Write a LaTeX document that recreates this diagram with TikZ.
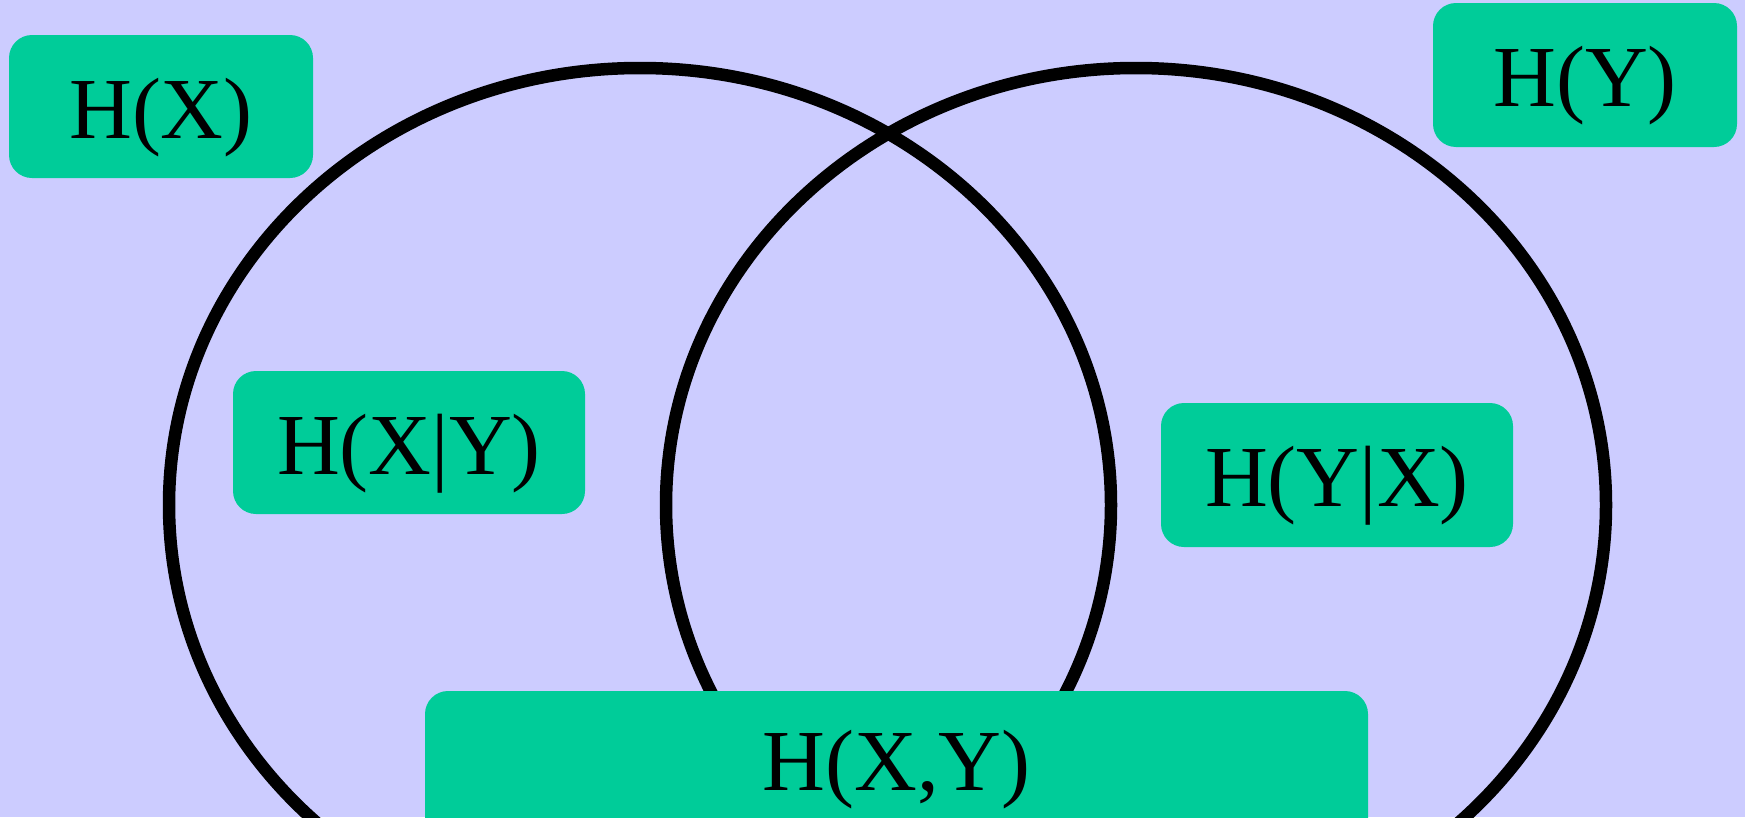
\documentclass[tikz,border=0pt]{standalone}
\usepackage{fontspec}
\setmainfont{Liberation Serif}
\definecolor{bgc}{HTML}{CCCCFF}
\definecolor{boxc}{HTML}{00CC99}
\begin{document}
\begin{tikzpicture}[x=1pt,y=-1pt,
  ent/.style={fill=boxc, rounded corners=23pt, inner sep=0pt,
    text height=80pt, text depth=17pt,
    font=\fontsize{87}{90}\selectfont},
  ring/.style={line width=12.5pt, draw=black}]
\useasboundingbox (0,0) rectangle (1745,817);
\clip (0,0) rectangle (1745,817);
\fill[bgc] (0,0) rectangle (1745,817);
\draw[ring] (640,505) ellipse [x radius=471pt, y radius=437pt];
\draw[ring] (1136,505) ellipse [x radius=470pt, y radius=437pt];
\node[ent, minimum width=304pt, minimum height=143pt] (hx) at (161,106.5) {H(X)};
\node[ent, minimum width=304pt, minimum height=144pt] (hy) at (1585,75) {H(Y)};
\node[ent, minimum width=352pt, minimum height=143pt] (hxy) at (409,442.5) {H(X|Y)};
\node[ent, minimum width=352pt, minimum height=144pt] (hyx) at (1337,475) {H(Y|X)};
\node[ent, minimum width=943pt, minimum height=209pt, text height=60pt, text depth=71pt] (joint) at (896.5,795.5) {H(X,Y)};
\end{tikzpicture}
\end{document}
